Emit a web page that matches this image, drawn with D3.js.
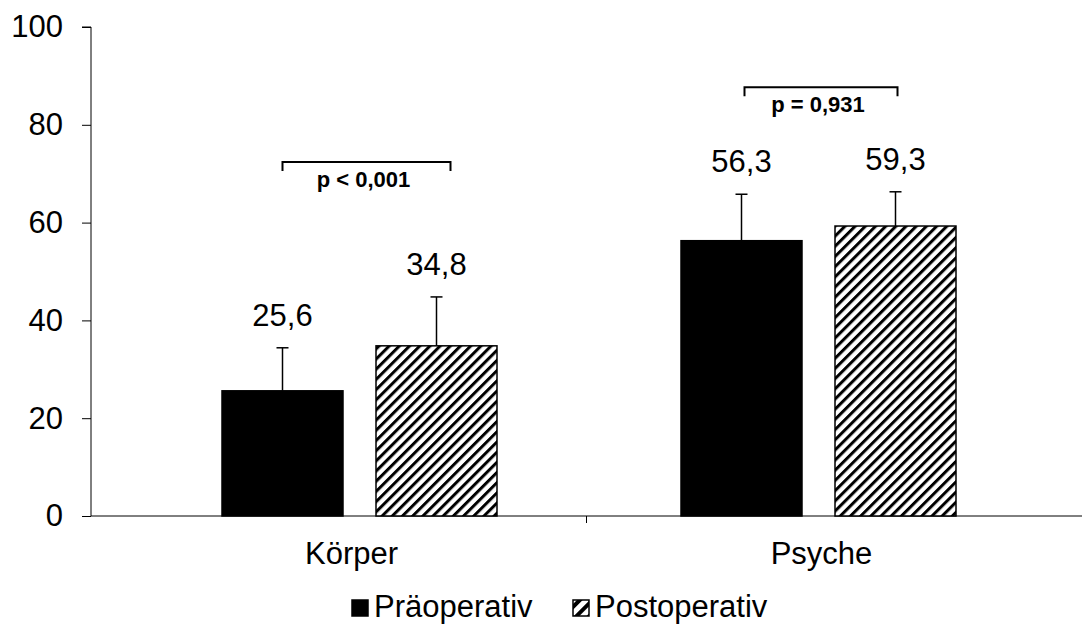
<!DOCTYPE html>
<html>
<head>
<meta charset="utf-8">
<script src="https://cdn.jsdelivr.net/npm/d3@7"></script>
<style>
  body { margin: 0; background: #fff; }
  svg { font-family: "Liberation Sans", Arial, sans-serif; }
</style>
</head>
<body>
<svg></svg>
<script>
// data
const categories = ["Körper", "Psyche"];
const seriesNames = ["Präoperativ", "Postoperativ"];
const praeValues = [25.6, 56.3];
const postValues = [34.8, 59.3];
const praeSD = [8.8, 9.5];
const postSD = [10.0, 7.0];
const pLabels = ["p < 0,001", "p = 0,931"];
const bracketLevels = [72.4, 87.7];
const yTicks = [0, 20, 40, 60, 80, 100];

let w = 1083, h = 631;
var svg = d3.select("svg").attr("width", w).attr("height", h);

var axisLeft = 91, axisRight = 1082;

// groups of bars
var x0 = d3.scaleBand().domain(categories).range([130, 1048]);
var x1 = d3.scaleBand().domain(seriesNames)
    .range([0, x0.bandwidth()]).paddingInner(0.2143).paddingOuter(0.5974);
var y = d3.scaleLinear().domain([0, 100]).range([516, 27]);

// hatch patterns
var defs = svg.append("defs");
var pat = defs.append("pattern")
    .attr("id", "hatch")
    .attr("patternUnits", "userSpaceOnUse")
    .attr("width", 7.2).attr("height", 7.2)
    .attr("patternTransform", "rotate(45)");
pat.append("rect").attr("width", 7.2).attr("height", 7.2).attr("fill", "#fff");
pat.append("rect").attr("width", 3).attr("height", 7.2).attr("fill", "#000");

var smallPat = defs.append("pattern")
    .attr("id", "hatchSmall")
    .attr("patternUnits", "userSpaceOnUse")
    .attr("width", 9).attr("height", 9)
    .attr("patternTransform", "rotate(45)");
smallPat.append("rect").attr("width", 9).attr("height", 9).attr("fill", "#fff");
smallPat.append("rect").attr("width", 4).attr("height", 9).attr("fill", "#000");

// y axis
var yAxis = d3.axisLeft(y).tickValues(yTicks).tickSize(9).tickPadding(19);
var gy = svg.append("g").attr("transform", `translate(${axisLeft},0)`).call(yAxis);
gy.selectAll("text").style("font-size", "31px").attr("fill", "#000");
gy.selectAll("line, path").attr("stroke", "#000");
gy.select(".domain").attr("d", `M-9,${y(100)}H0V${y(0)}`);

// x axis
var xAxis = d3.axisBottom(x0).tickSize(0).tickPadding(26);
var gx = svg.append("g").attr("transform", `translate(0,${y(0)})`).call(xAxis);
gx.select(".domain").attr("stroke", "#000").attr("d", `M${axisLeft},0H${axisRight}`);
gx.selectAll("text").style("font-size", "31px").attr("fill", "#000")
    .attr("dx", (d, i) => i === 0 ? -8 : 3);
gx.append("line")
    .attr("x1", (axisLeft + axisRight) / 2).attr("x2", (axisLeft + axisRight) / 2)
    .attr("y1", 0).attr("y2", 7).attr("stroke", "#000");

// bars
const series = [
    { name: seriesNames[0], values: praeValues, sd: praeSD, fill: "#000" },
    { name: seriesNames[1], values: postValues, sd: postSD, fill: "url(#hatch)" }
];

series.forEach(function(s) {
    var g = svg.append("g");
    categories.forEach(function(c, i) {
        var bx = x0(c) + x1(s.name);
        var bw = x1.bandwidth();
        var v = s.values[i];
        var top = y(v + s.sd[i]);
        var cx = bx + bw / 2;
        // error bar
        g.append("line").attr("x1", cx).attr("x2", cx)
            .attr("y1", y(v)).attr("y2", top).attr("stroke", "#000").attr("stroke-width", 1.5);
        g.append("line").attr("x1", cx - 6).attr("x2", cx + 6)
            .attr("y1", top).attr("y2", top).attr("stroke", "#000").attr("stroke-width", 1.5);
        g.append("rect")
            .attr("x", bx).attr("y", y(v))
            .attr("width", bw).attr("height", y(0) - y(v))
            .attr("fill", s.fill)
            .attr("stroke", "#000").attr("stroke-width", 1.5);
        g.append("text")
            .attr("x", cx).attr("y", top - 22)
            .attr("text-anchor", "middle")
            .style("font-size", "31px")
            .text(v.toFixed(1).replace(".", ","));
    });
});

// significance brackets
categories.forEach(function(c, i) {
    var xa = x0(c) + x1(seriesNames[0]) + x1.bandwidth() / 2 + (i === 0 ? 0 : 3);
    var xb = x0(c) + x1(seriesNames[1]) + x1.bandwidth() / 2 + (i === 0 ? 14 : 2);
    var by = y(bracketLevels[i]);
    svg.append("path")
        .attr("d", `M${xa},${by + 9}V${by}H${xb}V${by + 9}`)
        .attr("fill", "none").attr("stroke", "#000").attr("stroke-width", 2);
    svg.append("text")
        .attr("x", (xa + xb) / 2 - 3).attr("y", by + 25)
        .attr("text-anchor", "middle")
        .style("font-size", "22px").style("font-weight", "bold")
        .text(pLabels[i]);
});

// legend
var legend = svg.append("g").attr("transform", "translate(0,617)");
const legendX = [352, 573];
series.forEach(function(s, i) {
    legend.append("rect")
        .attr("x", legendX[i]).attr("y", -17)
        .attr("width", 16).attr("height", 16)
        .attr("fill", i === 0 ? "#000" : "url(#hatchSmall)")
        .attr("stroke", "#000").attr("stroke-width", 1.5);
    legend.append("text")
        .attr("x", legendX[i] + 22).attr("y", 0)
        .style("font-size", "31px")
        .text(s.name);
});
</script>
</body>
</html>
